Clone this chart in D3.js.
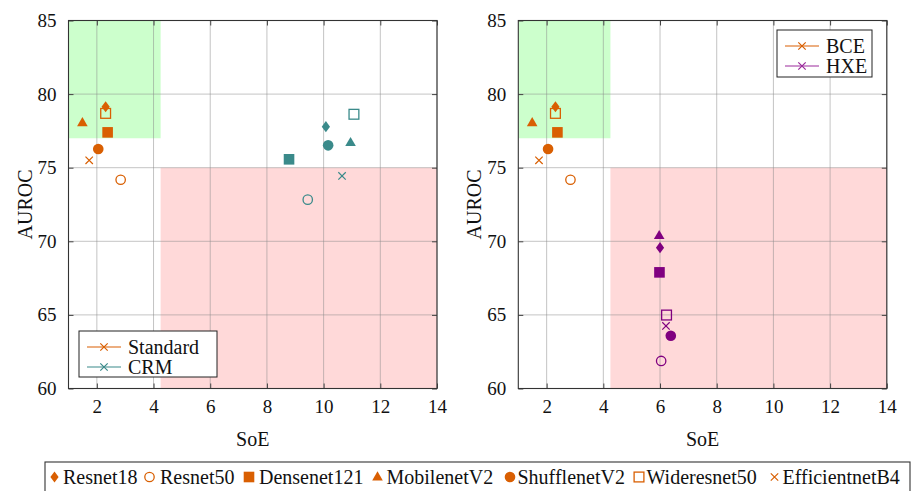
<!DOCTYPE html>
<html>
<head>
<meta charset="utf-8">
<script src="https://cdn.jsdelivr.net/npm/d3@7"></script>
<style>
  html, body { margin: 0; padding: 0; background: #fff; }
  svg { display: block; }
  text { font-family: "Liberation Serif", "Times New Roman", serif; fill: #111; }
</style>
</head>
<body>
<svg id="chart" width="912" height="491"></svg>
<script>
// ---------------- data ----------------
const models = ["Resnet18", "Resnet50", "Densenet121", "MobilenetV2", "ShufflenetV2", "Wideresnet50", "EfficientnetB4"];
const xTicks = [2, 4, 6, 8, 10, 12, 14];
const yTicks = [60, 65, 70, 75, 80, 85];
const xDomain = [1, 14];
const yDomain = [60, 85];

// Standard / BCE
const standardSoE   = [2.31, 2.84, 2.38, 1.49, 2.05, 2.31, 1.73];
const standardAUROC = [79.14, 74.18, 77.40, 78.05, 76.27, 78.69, 75.50];
// CRM
const crmSoE   = [10.08, 9.44, 8.78, 10.95, 10.16, 11.07, 10.65];
const crmAUROC = [77.79, 72.83, 75.57, 76.70, 76.52, 78.63, 74.44];
// HXE
const hxeSoE   = [6.00, 6.04, 5.98, 5.97, 6.38, 6.23, 6.21];
const hxeAUROC = [69.57, 61.87, 67.89, 70.38, 63.58, 64.99, 64.25];

// shaded regions [x0, x1, y0, y1]
const goodRegion = [1, 4.25, 77, 85];
const badRegion  = [4.25, 14, 60, 75];

// ---------------- styles ----------------
const ORANGE = "#d95f02";
const TEAL = "#3a8a8a";
const PURPLE = "#800080";
const markerTypes = ["diamond", "circleOpen", "square", "triangle", "circle", "squareOpen", "cross"];

const svg = d3.select("#chart");
svg.append("rect").attr("width", 912).attr("height", 491).attr("fill", "#fff");

function drawMarker(g, type, cx, cy, color) {
  const m = g.append("g").attr("transform", `translate(${cx},${cy})`);
  switch (type) {
    case "diamond":
      m.append("path").attr("d", "M0,-5.6L4.1,0L0,5.6L-4.1,0Z").attr("fill", color); break;
    case "circleOpen":
      m.append("circle").attr("r", 4.7).attr("fill", "none").attr("stroke", color).attr("stroke-width", 1.3); break;
    case "square":
      m.append("rect").attr("x", -5.3).attr("y", -5.3).attr("width", 10.6).attr("height", 10.6).attr("fill", color); break;
    case "triangle":
      m.append("path").attr("d", "M0,-5.8L5.3,3.4L-5.3,3.4Z").attr("fill", color); break;
    case "circle":
      m.append("circle").attr("r", 5.3).attr("fill", color); break;
    case "squareOpen":
      m.append("rect").attr("x", -4.9).attr("y", -4.9).attr("width", 9.8).attr("height", 9.8)
        .attr("fill", "none").attr("stroke", color).attr("stroke-width", 1.3); break;
    case "cross":
      m.append("path").attr("d", "M-3.7,-3.7L3.7,3.7M-3.7,3.7L3.7,-3.7")
        .attr("stroke", color).attr("stroke-width", 1.2).attr("fill", "none"); break;
  }
}

function drawPanel(left, series, legendItems, legendBox) {
  const W = 368.5, top = 20.5, bottom = 388.5;
  const x = d3.scaleLinear().domain(xDomain).range([left, left + W]);
  const y = d3.scaleLinear().domain(yDomain).range([bottom, top]);
  const g = svg.append("g");

  // regions
  g.append("rect").attr("x", x(goodRegion[0])).attr("y", y(goodRegion[3]))
    .attr("width", x(goodRegion[1]) - x(goodRegion[0])).attr("height", y(goodRegion[2]) - y(goodRegion[3]))
    .attr("fill", "#ccffcc");
  g.append("rect").attr("x", x(badRegion[0])).attr("y", y(badRegion[3]))
    .attr("width", x(badRegion[1]) - x(badRegion[0])).attr("height", y(badRegion[2]) - y(badRegion[3]))
    .attr("fill", "#ffd9d9");

  // grid
  const grid = g.append("g").attr("stroke", "#8a8a8a").attr("stroke-opacity", 0.5).attr("stroke-width", 1);
  xTicks.forEach(t => grid.append("line").attr("x1", x(t)).attr("x2", x(t)).attr("y1", top).attr("y2", bottom));
  yTicks.forEach(t => grid.append("line").attr("y1", y(t)).attr("y2", y(t)).attr("x1", left).attr("x2", left + W));

  // axes with inward ticks, both sides
  const axB = d3.axisBottom(x).tickValues(xTicks).tickSize(-5).tickPadding(11).tickFormat(d3.format("d"));
  const axT = d3.axisTop(x).tickValues(xTicks).tickSize(-5).tickFormat("");
  const axL = d3.axisLeft(y).tickValues(yTicks).tickSize(-5).tickPadding(12).tickFormat(d3.format("d"));
  const axR = d3.axisRight(y).tickValues(yTicks).tickSize(-5).tickFormat("");
  [[axB, `translate(0,${bottom})`], [axT, `translate(0,${top})`], [axL, `translate(${left},0)`], [axR, `translate(${left + W},0)`]]
    .forEach(([ax, tr]) => {
      const a = g.append("g").attr("transform", tr).call(ax);
      a.select(".domain").remove();
      a.selectAll(".tick line").attr("stroke", "#444");
      a.selectAll("text").attr("font-size", 19).attr("font-family", "Liberation Serif").attr("fill", "#111");
    });
  g.append("rect").attr("x", left).attr("y", top).attr("width", W).attr("height", bottom - top)
    .attr("fill", "none").attr("stroke", "#333").attr("stroke-width", 1.1);

  // labels
  g.append("text").attr("x", left + W / 2).attr("y", 446).attr("text-anchor", "middle")
    .attr("font-size", 20).text("SoE");
  g.append("text").attr("transform", `translate(${left - 37},${(top + bottom) / 2}) rotate(-90)`)
    .attr("text-anchor", "middle").attr("font-size", 20).text("AUROC");

  // points
  series.forEach(s => {
    models.forEach((mname, i) => drawMarker(g, markerTypes[i], x(s.xs[i]), y(s.ys[i]), s.color));
  });

  // legend
  const [lx, ly, lw, lh] = legendBox;
  const lg = g.append("g");
  lg.append("rect").attr("x", lx).attr("y", ly).attr("width", lw).attr("height", lh)
    .attr("fill", "#fff").attr("stroke", "#222").attr("stroke-width", 1);
  legendItems.forEach((it, k) => {
    const cy = ly + 16 + k * 20;
    lg.append("line").attr("x1", lx + 8).attr("x2", lx + 42).attr("y1", cy).attr("y2", cy)
      .attr("stroke", it.color).attr("stroke-width", 1.1);
    drawMarker(lg, "cross", lx + 25, cy, it.color);
    lg.append("text").attr("x", lx + 49).attr("y", cy + 6.5).attr("font-size", 20).text(it.label);
  });
}

drawPanel(68.5,
  [{ xs: standardSoE, ys: standardAUROC, color: ORANGE }, { xs: crmSoE, ys: crmAUROC, color: TEAL }],
  [{ label: "Standard", color: ORANGE }, { label: "CRM", color: TEAL }],
  [79, 331, 138, 46]);

drawPanel(518.3,
  [{ xs: standardSoE, ys: standardAUROC, color: ORANGE }, { xs: hxeSoE, ys: hxeAUROC, color: PURPLE }],
  [{ label: "BCE", color: ORANGE }, { label: "HXE", color: "#9b2a9b" }],
  [777, 30, 95, 47]);

// bottom legend
const bl = svg.append("g");
bl.append("rect").attr("x", 45).attr("y", 462).attr("width", 865).attr("height", 40)
  .attr("fill", "#fff").attr("stroke", "#333").attr("stroke-width", 1.1);
const legendMarkerX = [54.5, 149.5, 249, 377.5, 510, 639, 774.5];
const legendTextX = [63, 160, 259, 386.5, 517.5, 646.5, 782.5];
models.forEach((mname, i) => {
  drawMarker(bl, markerTypes[i], legendMarkerX[i], 477, ORANGE);
  bl.append("text").attr("x", legendTextX[i]).attr("y", 484).attr("font-size", 20).text(mname);
});
</script>
</body>
</html>
